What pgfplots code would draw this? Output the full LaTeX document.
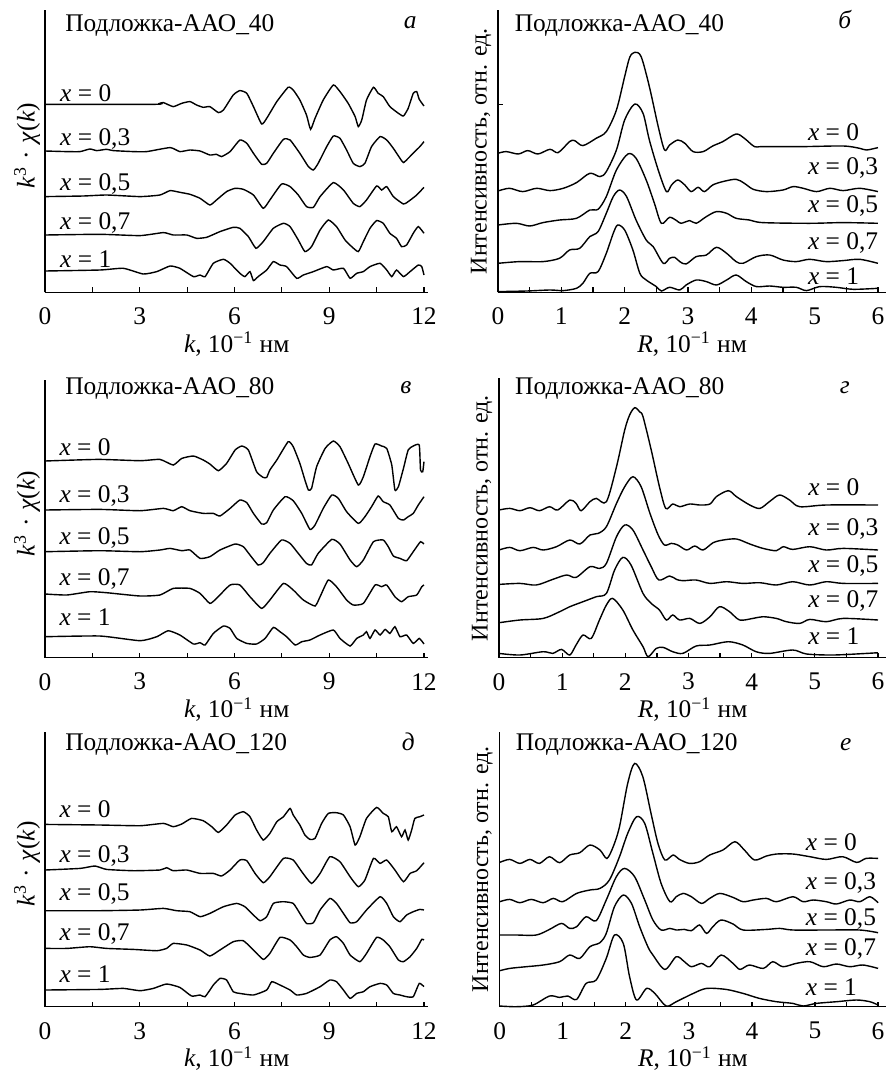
\documentclass[border=0pt,12pt]{standalone}
\usepackage{fontspec}
\setmainfont{Liberation Serif}
\usepackage{pgfplots}
\pgfplotsset{compat=1.18}

\newcommand\fs{\fontsize{12.7}{15}\selectfont}
\tikzset{lab/.style={anchor=base west, inner sep=0pt, font=\fs}}
\pgfplotsset{
  base/.style={
    scale only axis, axis lines=left, axis line style={-, line width=0.6pt},
    xmin=0, ymin=0, ytick=\empty, tick align=inside,
    major tick length=2.6pt, minor tick length=2.6pt,
    tick style={black, line width=0.6pt},
    /pgf/number format/assume math mode=true,
    xticklabel style={anchor=center, yshift=-12pt, font=\fs},
    clip=false,
    every axis plot post/.append style={black, line width=0.7pt, mark=none},
    every axis x label/.style={at={(axis description cs:0.5,0)}, anchor=center, yshift=-26pt, font=\fs},
  },
  kpanel/.style={base, xmax=12.14, width=191.7pt,
    xtick={0,3,6,9,12}, minor xtick={1.5,4.5,7.5,10.5},
    xlabel={\textit{k}, 10\textsuperscript{−1} нм},
    ylabel={\textit{k}\textsuperscript{3}\hspace{0.3em}·\hspace{0.3em}\textit{χ}(\textit{k})},
    every axis plot/.append style={smooth, tension=0.3},
    every axis y label/.style={at={([xshift=-9pt]axis description cs:0,0.52)}, rotate=90, anchor=center, font=\fs}},
  rpanel/.style={base, xmax=6.13,
    xtick={0,...,6}, minor xtick={0.5,1.5,...,5.5},
    xlabel={\textit{R}, 10\textsuperscript{−1} нм},
    ylabel={Интенсивность, отн. ед.},
    every axis plot/.append style={smooth, tension=0.5},
    every axis y label/.style={at={([xshift=-8.5pt]axis description cs:0,0.5)}, rotate=90, anchor=center, font=\fontsize{12}{14}\selectfont}},
}

\begin{document}
\begin{tikzpicture}[font=\fs]
\useasboundingbox (0,0) rectangle (443pt,-535.5pt);

% ---------- а ----------
\begin{axis}[kpanel, at={(22.5pt,-146.15pt)}, anchor=south west, height=141.15pt, ymax=282.3]
\addplot coordinates {(0,188) (3.5,188) (3.64,189) (3.75,189.7) (4.06,185.7) (4.33,189) (4.59,190.7) (4.80,187.3) (5.01,185) (5.22,185.7) (5.49,179.7) (5.65,182.3) (5.96,197.3) (6.17,201.7) (6.39,199) (6.60,185.7) (6.86,168.3) (7.02,174) (7.34,190.7) (7.70,205) (7.86,202.3) (8.07,192.3) (8.28,177.3) (8.41,163) (8.55,174) (8.81,192.3) (9.13,207.3) (9.34,200.7) (9.60,189) (9.82,175.7) (9.92,165.7) (10.03,172.3) (10.18,192.3) (10.40,205) (10.55,199) (10.71,195.7) (10.92,185.7) (11.19,179) (11.35,176.3) (11.50,184) (11.66,199) (11.77,200.7) (11.85,193) (12.0,186.3)};
\addplot coordinates {(0,141.3) (0.69,140.7) (1.11,140.7) (1.42,143.3) (1.64,141.7) (1.95,143) (2.16,141.7) (2.80,140.7) (3.22,140.7) (3.96,144.7) (4.27,140.7) (4.59,142.3) (4.91,141.3) (5.22,137.3) (5.43,138) (5.59,135.7) (5.86,140.7) (6.17,152.3) (6.39,149) (6.60,139) (6.86,128) (7.02,129) (7.23,139) (7.55,153) (7.76,152.3) (8.07,139) (8.34,125.7) (8.50,122.3) (8.65,129) (8.92,145.7) (9.13,156.3) (9.34,154) (9.55,142.3) (9.76,129) (9.97,125.7) (10.13,129) (10.34,145.7) (10.61,155.7) (10.82,152.3) (11.03,144) (11.24,134) (11.35,129.7) (11.50,134) (11.71,140.7) (11.87,145.7) (12.0,150.7)};
\addplot coordinates {(0,95.7) (1.21,96.3) (1.95,97.3) (3.01,95.7) (3.64,97.3) (3.96,101.7) (4.27,100) (4.59,98) (4.91,94) (5.22,87.3) (5.43,92.3) (5.75,100.7) (6.02,104) (6.28,103) (6.60,97.3) (6.91,84) (7.12,92.3) (7.49,108.3) (7.76,105.7) (8.02,97.3) (8.28,85.7) (8.50,85) (8.71,95.7) (9.13,109.7) (9.45,102.3) (9.76,89) (9.97,85.7) (10.18,92.3) (10.50,106.3) (10.66,102.3) (10.82,105.7) (11.03,95.7) (11.35,88.3) (11.50,90.7) (11.77,97.3) (12.0,105)};
\addplot coordinates {(0,57.3) (1.74,58) (3.01,56.7) (3.75,59.7) (4.06,57.3) (4.49,57.3) (4.80,54) (5.12,55) (5.54,60.7) (5.96,65) (6.17,64) (6.44,55.7) (6.68,44) (6.91,50.7) (7.23,64) (7.55,69) (7.76,65.7) (8.02,52.3) (8.23,40.7) (8.44,45.7) (8.71,62.3) (8.97,72.3) (9.23,65.7) (9.50,52.3) (9.71,45.7) (9.92,40.7) (10.08,50.7) (10.29,64) (10.50,71.7) (10.71,69) (10.92,59) (11.13,54) (11.29,45.7) (11.45,47.3) (11.66,59) (11.82,65.7) (12.0,59)};
\addplot coordinates {(0,21.3) (1.74,22.3) (2.48,24) (3.11,18.3) (3.54,20.7) (3.96,26.3) (4.27,24) (4.70,15.7) (4.91,17.3) (5.07,15.7) (5.33,29) (5.65,33) (5.86,29) (6.17,19) (6.33,15.7) (6.49,20.7) (6.60,11.7) (6.75,15.7) (7.02,22.3) (7.23,30.7) (7.44,27.3) (7.65,25.7) (7.97,14) (8.18,17.3) (8.50,20.7) (8.92,25.7) (9.13,22.3) (9.45,24) (9.66,14) (9.87,19) (10.08,20.7) (10.29,25.7) (10.61,29) (10.82,22.3) (10.98,15.7) (11.13,22.3) (11.35,15.7) (11.56,20.7) (11.82,27.3) (11.93,25.7) (12.0,17.3)};
\node[lab] at (axis cs:0.63,260.7) {Подложка-ААО\_40};
\node[lab] at (axis cs:11.35,264) {\textit{а}};
\node[lab] at (axis cs:0.47,190.5) {\textit{x} = 0};
\node[lab] at (axis cs:0.47,146.5) {\textit{x} = 0,3};
\node[lab] at (axis cs:0.47,101.5) {\textit{x} = 0,5};
\node[lab] at (axis cs:0.47,63.2) {\textit{x} = 0,7};
\node[lab] at (axis cs:0.47,24.8) {\textit{x} = 1};
\end{axis}

% ---------- б ----------
\begin{axis}[rpanel, at={(249pt,-146.15pt)}, anchor=south west, width=194.1pt, height=141.15pt, ymax=282.3, ytick={188}, yticklabels={}]
\addplot coordinates {(0,139) (0.13,140.7) (0.32,138.3) (0.47,141.7) (0.63,138.3) (0.82,143) (0.95,139.7) (1.13,150.7) (1.21,151.7) (1.34,146.7) (1.55,154) (1.71,160.7) (1.87,182.3) (2.0,215.7) (2.08,235) (2.16,240) (2.26,235.7) (2.39,205.7) (2.53,165.7) (2.63,142.3) (2.71,147.3) (2.84,152.3) (2.95,149) (3.08,140.7) (3.24,140.7) (3.39,146.3) (3.55,150.7) (3.76,158.3) (3.89,154) (4.05,145.7) (4.18,145.7) (4.82,145.7) (5.45,146.3) (5.71,144) (5.82,142.3) (6.0,144.7)};
\addplot coordinates {(0,101.3) (0.18,104) (0.39,100.7) (0.61,104) (0.82,101.7) (1.03,104) (1.24,109.7) (1.45,119) (1.61,115.7) (1.71,120.7) (1.87,142.3) (2.0,172.3) (2.16,188.3) (2.29,179) (2.39,152.3) (2.53,122.3) (2.66,100.7) (2.74,107.3) (2.84,112.3) (2.95,107.3) (3.05,100.7) (3.16,105) (3.26,100.7) (3.39,107.3) (3.55,110.7) (3.76,113) (3.89,109) (4.03,103) (4.24,100.7) (4.50,102.3) (4.66,105.7) (4.82,104) (5.03,100.7) (5.24,104) (5.45,101.7) (5.71,104) (6.0,100.7)};
\addplot coordinates {(0,67.3) (0.29,69) (0.5,66.3) (0.71,69.7) (0.97,72.3) (1.24,74) (1.45,82.3) (1.58,83) (1.71,95.7) (1.87,122.3) (2.05,138.3) (2.18,134) (2.34,112.3) (2.47,89) (2.58,69) (2.71,75) (2.82,71.7) (2.89,69) (3.03,71.7) (3.13,69) (3.29,75.7) (3.45,80.7) (3.61,79) (3.76,74) (3.97,72.3) (4.18,69.7) (4.92,69) (5.45,69.7) (6.0,69)};
\addplot coordinates {(0,29) (0.34,30.7) (0.71,30.7) (0.97,34) (1.13,42.3) (1.29,44) (1.45,55.7) (1.58,60.7) (1.71,79) (1.82,95.7) (1.92,102.3) (2.03,95.7) (2.18,72.3) (2.34,52.3) (2.45,45.7) (2.61,29) (2.71,34) (2.79,35) (2.87,30.7) (2.97,28.3) (3.13,35.7) (3.29,37.3) (3.45,45) (3.61,39) (3.76,30.7) (3.87,29) (4.08,35.7) (4.29,37.3) (4.50,32.3) (4.71,30.7) (4.92,33) (5.18,30.7) (5.45,31.7) (5.71,33) (6.0,29)};
\addplot coordinates {(0,0.7) (0.45,1.3) (0.82,2.3) (1.03,1.7) (1.24,4) (1.34,9) (1.45,19) (1.58,20.7) (1.71,39) (1.82,59) (1.89,67.3) (2.0,62.3) (2.13,42.3) (2.24,19) (2.34,12.3) (2.50,5.7) (2.58,1.3) (2.71,5) (2.87,2.3) (2.97,7.3) (3.13,12.3) (3.29,10.7) (3.45,7.3) (3.61,12.3) (3.76,17.3) (3.92,10.7) (4.08,5.7) (4.29,6.3) (4.50,5) (4.71,5) (4.87,1.7) (5.08,5.7) (5.34,5) (5.61,3) (6.0,4)};
\node[lab] at (axis cs:0.26,260.7) {Подложка-ААО\_40};
\node[lab] at (axis cs:5.37,264) {\textit{б}};
\node[lab] at (axis cs:4.89,151.5) {\textit{x} = 0};
\node[lab] at (axis cs:4.89,118.2) {\textit{x} = 0,3};
\node[lab] at (axis cs:4.89,79.8) {\textit{x} = 0,5};
\node[lab] at (axis cs:4.89,43.2) {\textit{x} = 0,7};
\node[lab] at (axis cs:4.89,8.2) {\textit{x} = 1};
\end{axis}

% ---------- в ----------
\begin{axis}[kpanel, at={(22.5pt,-328.85pt)}, anchor=south west, height=138.85pt, ymax=277.7]
\addplot coordinates {(0,196.7) (1.69,198.3) (3.01,197) (3.64,198.3) (4.06,192.7) (4.33,199.3) (4.70,201.7) (5.01,197.7) (5.22,193.7) (5.49,187) (5.75,194.3) (6.02,207.7) (6.23,211.7) (6.44,207.7) (6.70,186) (6.91,180.3) (7.02,180.3) (7.12,187.7) (7.34,197.7) (7.70,216) (7.86,211) (8.07,194.3) (8.23,177.7) (8.34,167.7) (8.44,169.3) (8.60,191) (8.87,209.3) (9.13,216.7) (9.34,211) (9.60,194.3) (9.92,172.7) (10.08,181) (10.29,201) (10.45,213.7) (10.66,211.7) (10.82,209.3) (10.98,192.7) (11.08,167.7) (11.19,171) (11.35,189.3) (11.50,207.7) (11.66,211.7) (11.85,212.7) (11.89,187.7) (11.96,186) (12.0,196)};
\addplot coordinates {(0,147.7) (1.74,148.3) (3.01,147) (3.75,149.3) (4.06,147) (4.33,151) (4.59,147) (5.01,144.3) (5.33,144.3) (5.54,141.7) (5.86,149.3) (6.17,157.7) (6.39,155) (6.60,144.3) (6.86,133.7) (7.02,135) (7.23,147.7) (7.60,161) (7.86,157) (8.13,144.3) (8.39,128.3) (8.55,132.7) (8.81,149.3) (9.08,162.7) (9.29,159.3) (9.55,146) (9.92,134.3) (10.13,141) (10.34,151) (10.55,161.7) (10.71,156) (10.92,152.7) (11.19,139.3) (11.35,137.7) (11.50,141) (11.66,144.3) (11.82,152.7) (12.0,161)};
\addplot coordinates {(0,106) (1.74,107) (3.01,106) (3.64,107.7) (3.96,109.3) (4.33,107) (4.59,107.7) (4.91,99.3) (5.22,101) (5.54,107.7) (6.02,113.7) (6.28,111) (6.49,102.7) (6.75,92.7) (6.91,95) (7.12,104.3) (7.49,117.7) (7.76,114.3) (8.02,104.3) (8.28,94.3) (8.44,92.7) (8.65,104.3) (9.08,118.3) (9.34,113.7) (9.66,97.7) (9.87,91) (10.08,97.7) (10.40,116) (10.71,117.7) (10.87,111) (11.03,101.7) (11.24,99.3) (11.45,97) (11.66,106) (11.89,116) (12.0,113.7)};
\addplot coordinates {(0,63.7) (0.69,62.7) (1.42,66) (1.95,65) (3.01,61.7) (3.64,62.7) (4.06,69.3) (4.59,69.3) (4.91,64.3) (5.22,54.3) (5.43,59.3) (5.86,72.7) (6.17,72.7) (6.49,61) (6.86,49.3) (7.12,57.7) (7.55,74.3) (7.86,67.7) (8.18,57.7) (8.55,51.7) (8.71,61) (8.97,77.7) (9.23,71) (9.55,57.7) (9.76,52.7) (10.08,54.3) (10.45,72.7) (10.66,71) (10.82,72.7) (11.08,61) (11.29,56) (11.50,61) (11.77,62.7) (11.93,71) (12.0,72.7)};
\addplot coordinates {(0,21) (1.74,21.7) (3.01,17) (3.54,21) (3.90,27) (4.27,22.7) (4.70,13.7) (4.91,15) (5.07,12.7) (5.33,24.3) (5.65,31.7) (5.86,29.3) (6.07,19.3) (6.39,14.3) (6.70,13.7) (6.97,19.3) (7.23,30.3) (7.44,26) (7.65,21) (7.92,12.7) (8.13,16) (8.39,17.7) (8.71,22.7) (9.13,27.7) (9.34,19.3) (9.66,11.7) (9.87,19.3) (10.08,22.7) (10.18,26) (10.29,19.3) (10.45,27.7) (10.61,22.7) (10.77,28.3) (10.92,24.3) (11.08,31) (11.24,21) (11.45,22.7) (11.66,14.3) (11.85,19.3) (12.0,13.7)};
\node[lab] at (axis cs:0.63,263.7) {Подложка-ААО\_80};
\node[lab] at (axis cs:11.24,264.3) {\textit{в}};
\node[lab] at (axis cs:0.45,201.8) {\textit{x} = 0};
\node[lab] at (axis cs:0.45,155.2) {\textit{x} = 0,3};
\node[lab] at (axis cs:0.45,113.5) {\textit{x} = 0,5};
\node[lab] at (axis cs:0.45,71.8) {\textit{x} = 0,7};
\node[lab] at (axis cs:0.45,31.8) {\textit{x} = 1};
\end{axis}

% ---------- г ----------
\begin{axis}[rpanel, at={(249.5pt,-328.85pt)}, anchor=south west, width=193.6pt, height=139.65pt, ymax=279.3]
\addplot coordinates {(0,147.7) (0.17,149.3) (0.33,147) (0.49,150) (0.64,147) (0.80,151) (0.93,147.7) (1.12,157.7) (1.22,154.3) (1.30,147) (1.44,156) (1.54,159.3) (1.70,156) (1.86,191) (1.99,227.7) (2.07,243) (2.15,250) (2.23,245.7) (2.28,241) (2.41,207.7) (2.54,171) (2.64,149.3) (2.75,153.7) (2.86,151) (3.02,153.7) (3.18,152.7) (3.34,153.7) (3.44,161) (3.63,167) (3.76,161) (3.97,152.7) (4.13,149.3) (4.28,156) (4.44,162.7) (4.60,157.7) (4.76,151) (5.18,152.7) (6.0,152.7)};
\addplot coordinates {(0,107.7) (0.17,110.3) (0.33,107) (0.54,110.3) (0.70,107.7) (0.91,111) (1.12,117.7) (1.28,113.7) (1.44,122.7) (1.57,124.3) (1.70,131) (1.86,154.3) (1.99,171) (2.12,181) (2.25,171) (2.39,144.3) (2.52,122.7) (2.62,112.7) (2.73,114.3) (2.83,112.7) (2.97,107.7) (3.10,111.7) (3.23,107.7) (3.39,115) (3.55,117.7) (3.76,118.7) (3.97,113.7) (4.18,109.3) (4.39,107) (4.50,111) (4.65,108.3) (4.92,111) (5.18,107.7) (5.45,109.3) (6.0,107.7)};
\addplot coordinates {(0,73.3) (0.33,74.3) (0.59,72.7) (0.85,78.3) (1.07,82.7) (1.22,80.3) (1.44,91) (1.59,89.3) (1.70,94.3) (1.86,121) (1.99,132.7) (2.12,127.7) (2.28,107.7) (2.41,91) (2.53,77.7) (2.70,81.7) (2.81,78.3) (2.91,77) (3.12,77.7) (3.34,74.3) (3.60,76) (3.86,74.3) (4.13,75) (4.39,72.7) (4.65,76) (4.92,72.7) (5.18,76) (5.45,74.3) (6.0,74.3)};
\addplot coordinates {(0,35) (0.33,37.7) (0.70,39.3) (0.96,46) (1.12,51) (1.33,56) (1.54,61) (1.70,64.3) (1.83,87.7) (1.96,100.3) (2.09,92.7) (2.28,64.3) (2.41,54.3) (2.54,47.7) (2.65,37.7) (2.75,42.7) (2.86,37.7) (3.02,39.3) (3.18,34.3) (3.34,41) (3.49,51) (3.65,46) (3.81,37.7) (4.02,39.3) (4.18,41) (4.39,39.3) (4.55,36) (4.76,34.3) (4.92,38.3) (5.18,36) (5.45,39.3) (6.0,37.7)};
\addplot coordinates {(0,4.3) (0.33,2.7) (0.70,6) (0.85,4.3) (0.99,8.3) (1.12,2.7) (1.22,12.7) (1.33,22.7) (1.46,19.3) (1.59,37.7) (1.70,52.7) (1.80,59.3) (1.96,47.7) (2.12,27.7) (2.28,11) (2.36,1) (2.49,9.3) (2.60,10.3) (2.75,6) (2.91,4.3) (3.12,11.7) (3.34,12.7) (3.63,16) (3.86,12.7) (4.07,6) (4.28,4.3) (4.65,7.7) (4.87,3.7) (5.29,2.7) (5.82,4.3) (6.0,5)};
\node[lab] at (axis cs:0.25,263.7) {Подложка-ААО\_80};
\node[lab] at (axis cs:5.39,264.3) {\textit{г}};
\node[lab] at (axis cs:4.89,161.8) {\textit{x} = 0};
\node[lab] at (axis cs:4.89,121.8) {\textit{x} = 0,3};
\node[lab] at (axis cs:4.89,85.2) {\textit{x} = 0,5};
\node[lab] at (axis cs:4.89,50.2) {\textit{x} = 0,7};
\node[lab] at (axis cs:4.89,13.5) {\textit{x} = 1};
\end{axis}

% ---------- д ----------
\begin{axis}[kpanel, at={(22.5pt,-503.35pt)}, anchor=south west, height=137.5pt, ymax=275]
\addplot coordinates {(0,182.3) (1.74,181.7) (3.01,181) (3.75,183.3) (4.06,180) (4.33,182.7) (4.64,188.3) (5.01,186) (5.28,180) (5.49,174.3) (5.75,181.7) (6.02,191.7) (6.28,195) (6.49,190) (6.70,176.7) (6.91,166.7) (7.12,173.3) (7.34,185) (7.55,190) (7.76,198.3) (7.86,191.7) (8.07,181.7) (8.23,171.7) (8.39,167.3) (8.55,168.3) (8.76,183.3) (8.97,193.3) (9.23,194) (9.45,191.7) (9.66,180) (9.82,161.7) (9.97,170) (10.18,188.3) (10.50,199.3) (10.71,193.3) (10.87,190) (10.98,175) (11.13,180) (11.29,170) (11.40,176.7) (11.50,166.7) (11.61,176.7) (11.71,188.3) (11.87,190) (12.0,191.7)};
\addplot coordinates {(0,136.7) (1.11,138.3) (1.58,140.7) (1.95,137.3) (2.80,136) (3.64,136.7) (3.85,139) (4.06,136) (4.49,136.7) (4.91,133.3) (5.33,133.3) (5.59,130.7) (5.86,136.7) (6.17,146.7) (6.39,146) (6.65,133.3) (6.91,124) (7.12,130) (7.55,148.3) (7.86,146.7) (8.13,135) (8.44,123.3) (8.71,133.3) (9.02,150) (9.34,145) (9.66,130) (9.92,120) (10.13,126.7) (10.40,148.3) (10.61,143.3) (10.82,146.7) (11.08,136.7) (11.35,125) (11.56,133.3) (11.77,136) (12.0,144)};
\addplot coordinates {(0,96) (1.74,96) (3.01,96.7) (3.75,98.3) (4.17,96) (4.59,95) (4.91,90) (5.22,93.3) (5.65,100) (6.07,103.3) (6.33,100) (6.60,91.7) (6.81,86) (7.02,90) (7.23,103.3) (7.55,105) (7.86,103.3) (8.07,93.3) (8.28,83.3) (8.50,84) (8.71,96.7) (9.02,108.3) (9.23,103.3) (9.45,93.3) (9.66,84) (9.87,85) (10.18,96.7) (10.61,110) (10.82,103.3) (11.03,90) (11.24,85) (11.45,91.7) (11.66,95) (11.87,97.3) (12.0,96.7)};
\addplot coordinates {(0,58.3) (0.69,58.3) (1.42,60) (1.95,58.3) (2.80,57.3) (3.54,56) (3.85,58.3) (4.06,63.3) (4.49,61.7) (4.91,56.7) (5.22,50.7) (5.54,56.7) (5.96,65) (6.28,66) (6.60,56.7) (6.91,47.3) (7.12,53.3) (7.44,69.3) (7.76,66.7) (7.97,60) (8.18,51.7) (8.39,49.3) (8.71,51.7) (9.02,66.7) (9.23,70) (9.45,63.3) (9.66,51.7) (9.97,45) (10.18,53.3) (10.50,69.3) (10.71,66.7) (10.92,60) (11.19,46.7) (11.35,45) (11.56,50) (11.77,58.3) (11.93,67.3) (12.0,66.7)};
\addplot coordinates {(0,16.7) (1.74,17.3) (2.48,18.3) (3.01,16) (3.43,18.3) (3.85,22.7) (4.27,19.3) (4.64,10.7) (4.91,11.7) (5.07,10) (5.33,21.7) (5.54,28.3) (5.75,26.7) (5.96,15) (6.17,13.3) (6.60,11.7) (7.02,16.7) (7.18,25) (7.44,21.7) (7.76,16.7) (7.97,11.7) (8.28,13.3) (8.71,20) (9.02,26.7) (9.23,25) (9.45,16.7) (9.66,8.3) (9.87,13.3) (10.08,15) (10.29,20) (10.61,23.3) (10.82,21.7) (11.03,13.3) (11.24,11.7) (11.45,10) (11.66,10) (11.85,23.3) (12.0,20)};
\node[lab] at (axis cs:0.63,256.7) {Подложка-ААО\_120};
\node[lab] at (axis cs:11.29,256.7) {\textit{д}};
\node[lab] at (axis cs:0.45,189.2) {\textit{x} = 0};
\node[lab] at (axis cs:0.45,144.2) {\textit{x} = 0,3};
\node[lab] at (axis cs:0.45,105.8) {\textit{x} = 0,5};
\node[lab] at (axis cs:0.45,65.8) {\textit{x} = 0,7};
\node[lab] at (axis cs:0.45,24.2) {\textit{x} = 1};
\end{axis}

% ---------- е ----------
\begin{axis}[rpanel, at={(249.83pt,-503.35pt)}, anchor=south west, width=193.3pt, height=137.5pt, ymax=275]
\addplot coordinates {(0,144.3) (0.16,147.3) (0.32,143.3) (0.48,147.3) (0.63,143.3) (0.79,150) (0.95,144) (1.11,151.7) (1.27,154) (1.43,161.7) (1.59,156.7) (1.70,148.3) (1.80,160) (1.90,180) (2.03,223.3) (2.14,243.3) (2.27,230) (2.40,193.3) (2.51,163.3) (2.62,146.7) (2.75,151.7) (2.85,147.3) (3.01,143.3) (3.17,145) (3.33,151.7) (3.54,156.7) (3.73,165) (3.88,156.7) (4.04,146.7) (4.23,150.7) (4.39,152.7) (4.65,152.7) (4.92,150) (5.18,147.3) (5.44,150) (5.66,144.3) (5.81,148.3) (6.0,148.3)};
\addplot coordinates {(0,105) (0.16,107.3) (0.32,104) (0.50,107.3) (0.69,104) (0.85,108.3) (1.0,105) (1.22,113.3) (1.43,116.7) (1.59,118.3) (1.74,126.7) (1.90,150) (2.03,173.3) (2.17,190) (2.30,183.3) (2.43,153.3) (2.56,123.3) (2.70,105) (2.80,110) (2.91,113.3) (3.04,110) (3.20,103.3) (3.33,108.3) (3.49,113.3) (3.70,109.3) (3.86,105) (4.02,106.7) (4.23,108.3) (4.39,105) (4.65,110) (4.81,105) (4.97,106.7) (5.18,105) (5.34,102.7) (5.55,106.7) (5.71,105) (5.87,110) (6.0,104)};
\addplot coordinates {(0,71.7) (0.26,71.7) (0.58,71.7) (0.79,77.3) (0.98,83.3) (1.11,78.3) (1.22,80) (1.37,90) (1.53,86) (1.69,106.7) (1.85,130) (1.98,138.3) (2.14,130) (2.30,106.7) (2.43,86.7) (2.56,76.7) (2.70,78.3) (2.80,76.7) (2.93,77.3) (3.04,76) (3.17,81.7) (3.28,73.3) (3.38,80) (3.51,86.7) (3.70,82.7) (3.86,76.7) (4.23,77.3) (4.44,78.3) (4.65,76.7) (5.18,76.7) (5.71,76.7) (6.0,74)};
\addplot coordinates {(0,36) (0.16,38.3) (0.42,40) (0.69,41.7) (0.95,45) (1.11,51.7) (1.27,48.3) (1.43,60) (1.59,64) (1.69,73.3) (1.82,100) (1.96,111.7) (2.09,103.3) (2.22,80) (2.35,60) (2.43,51.7) (2.62,37.3) (2.80,50) (2.93,45) (3.04,40) (3.20,43.3) (3.33,40) (3.51,51.7) (3.70,43.3) (3.81,37.3) (3.96,41.7) (4.18,38.3) (4.33,45) (4.49,40) (4.70,43.3) (4.92,45) (5.13,40) (5.34,42.7) (5.55,40) (5.76,41.7) (6.0,38.3)};
\addplot coordinates {(0,0.7) (0.26,0) (0.53,1.7) (0.79,10.7) (0.95,9.3) (1.08,10.7) (1.22,7.3) (1.37,23.3) (1.53,26.7) (1.69,48.3) (1.82,71.7) (1.96,63.3) (2.06,30) (2.17,6.7) (2.33,18.3) (2.46,13.3) (2.64,0.7) (2.80,5) (3.07,13.3) (3.28,18.3) (3.59,17.3) (3.86,13.3) (4.12,8.3) (4.39,5) (4.65,3.3) (4.81,0.7) (5.02,3.3) (5.34,5) (5.66,6.7) (5.87,5) (6.0,1.7)};
\node[lab] at (axis cs:0.25,256.7) {Подложка-ААО\_120};
\node[lab] at (axis cs:5.39,256.7) {\textit{е}};
\node[lab] at (axis cs:4.85,155.8) {\textit{x} = 0};
\node[lab] at (axis cs:4.85,117.5) {\textit{x} = 0,3};
\node[lab] at (axis cs:4.85,80.8) {\textit{x} = 0,5};
\node[lab] at (axis cs:4.85,50.8) {\textit{x} = 0,7};
\node[lab] at (axis cs:4.85,10.8) {\textit{x} = 1};
\end{axis}
\end{tikzpicture}
\end{document}
